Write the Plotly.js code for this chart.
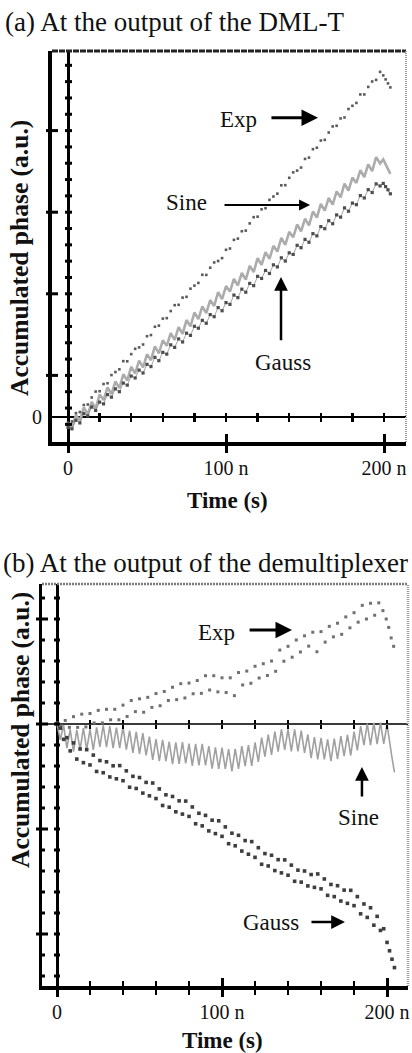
<!DOCTYPE html>
<html>
<head>
<meta charset="utf-8">
<script src="https://cdn.plot.ly/plotly-3.0.1.min.js"></script>
<style>
  html, body { margin: 0; padding: 0; background: #fff; }
  #chart { width: 412px; height: 1053px; }
</style>
</head>
<body>
<div id="chart"></div>
<script>
// ---- (a) At the output of the DML-T : time in ns, phase in a.u. ----
const timeA = [0,2.5,5,7.5,10,12.5,15,17.5,20,22.5,25,27.5,30,32.5,35,37.5,40,42.5,45,47.5,
  50,52.5,55,57.5,60,62.5,65,67.5,70,72.5,75,77.5,80,82.5,85,87.5,90,92.5,95,97.5,
  100,102.5,105,107.5,110,112.5,115,117.5,120,122.5,125,127.5,130,132.5,135,137.5,140,142.5,145,147.5,
  150,152.5,155,157.5,160,162.5,165,167.5,170,172.5,175,177.5,180,182.5,185,187.5,190,192.5,195,197.5,
  199.5,201,202.5,204];

const expA = [-0.35,-0.28,0.24,0.31,0.75,0.78,1.22,1.59,1.61,2.06,
  2.11,2.62,2.81,2.98,3.49,3.48,3.93,4.26,4.35,4.53,
  5.05,5.12,5.64,5.71,6.15,6.18,6.62,6.99,7.01,7.46,
  7.51,8.02,8.21,8.38,8.89,8.88,9.33,9.66,9.75,9.93,
  10.45,10.53,11.07,11.15,11.61,11.65,12.10,12.49,12.52,12.98,
  13.05,13.57,13.78,13.96,14.48,14.49,14.95,15.29,15.40,15.59,
  16.13,16.21,16.74,16.83,17.28,17.32,17.78,18.16,18.2,18.66,
  18.72,19.25,19.45,19.63,20.16,20.16,20.63,20.97,21.07,21.57,
  21.35,21.1,20.85,20.6];

const sineA = [-0.35,-0.69,0.12,-0.24,0.6,0.16,0.95,0.53,1.4,1.06,
  1.85,1.43,2.22,1.81,2.67,2.28,3.14,2.72,3.52,3.10,
  3.92,3.55,4.41,3.98,4.79,4.45,5.24,4.82,5.62,5.2,
  6.06,5.67,6.53,6.12,6.91,6.49,7.31,6.94,7.81,7.37,
  8.18,7.84,8.63,8.22,9.01,8.59,9.45,9.06,9.93,9.51,
  10.3,9.88,10.7,10.34,11.2,10.76,11.57,11.23,12.03,11.61,
  12.4,11.98,12.84,12.46,13.32,12.9,13.69,13.27,14.1,13.73,
  14.59,14.15,14.96,14.63,15.42,15.0,15.79,15.37,16.24,15.85,
  16.1,15.8,15.5,15.2];

const gaussA = [-0.65,-0.74,-0.21,-0.37,0.21,0.07,0.62,0.41,0.93,0.82,
  1.4,1.24,1.76,1.58,2.12,1.99,2.56,2.44,2.93,2.75,
  3.29,3.15,3.73,3.52,4.04,3.93,4.51,4.35,4.88,4.69,
  5.24,5.1,5.67,5.55,6.04,5.86,6.4,6.27,6.84,6.64,
  7.15,7.04,7.62,7.46,7.99,7.8,8.35,8.21,8.79,8.66,
  9.16,8.97,9.51,9.38,9.95,9.75,10.26,10.16,10.73,10.58,
  11.1,10.92,11.46,11.32,11.9,11.77,12.27,12.08,12.63,12.49,
  13.07,12.86,13.37,13.27,13.84,13.69,14.21,14.03,14.57,14.44,
  14.6,14.4,14.2,13.95];

// ---- (b) At the output of the demultiplexer ----
const expB = [0.05,-0.09,0.17,-0.16,0.35,-0.16,0.47,-0.14,0.5,0.05,
  0.65,0.05,0.7,0.2,0.7,0.2,0.9,0.36,1.12,0.59,
  1.2,0.56,1.27,0.79,1.45,0.87,1.55,1.12,1.75,1.16,
  1.92,1.24,1.95,1.44,2.07,1.46,2.3,1.62,2.3,1.53,
  2.2,1.5,2.2,1.35,2.45,1.86,2.52,1.94,2.75,2.19,
  2.87,2.31,3.0,2.51,3.52,2.99,3.7,3.18,4.0,3.43,
  4.2,3.71,4.37,3.44,4.4,3.9,4.65,4.15,4.8,4.27,
  5.1,4.58,5.3,4.85,5.65,5.0,5.75,5.18,5.77,5.4,
  5.0,4.6,4.1,3.7];

const timeB = [0,2,4,6,8,10,12,14,16,18,20,22,24,26,28,30,32,34,36,38,
  40,42,44,46,48,50,52,54,56,58,60,62,64,66,68,70,72,74,76,78,
  80,82,84,86,88,90,92,94,96,98,100,102,104,106,108,110,112,114,116,118,
  120,122,124,126,128,130,132,134,136,138,140,142,144,146,148,150,152,154,156,158,
  160,162,164,166,168,170,172,174,176,178,180,182,184,186,188,190,192,194,196,198,
  200,201.5,203,204.5];

const sineB = [0,-0.75,-0.05,-1.15,-0.25,-1.32,-0.28,-1.22,-0.2,-1.22,
  -0.25,-1.23,-0.16,-1.09,-0.07,-1.1,-0.1,-1.15,-0.17,-1.15,
  -0.13,-1.22,-0.32,-1.37,-0.37,-1.42,-0.43,-1.49,-0.6,-1.71,
  -0.72,-1.77,-0.75,-1.77,-0.84,-1.91,-0.88,-1.9,-0.86,-1.87,
  -0.93,-1.99,-0.95,-1.97,-0.94,-1.97,-1.05,-2.13,-1.11,-2.14,
  -1.12,-2.14,-1.2,-2.25,-1.18,-2.14,-1.05,-2.0,-1.0,-1.99,
  -0.88,-1.8,-0.65,-1.55,-0.5,-1.47,-0.36,-1.32,-0.25,-1.23,
  -0.26,-1.3,-0.26,-1.3,-0.31,-1.38,-0.5,-1.62,-0.63,-1.68,
  -0.66,-1.68,-0.73,-1.77,-0.7,-1.67,-0.58,-1.53,-0.52,-1.5,
  -0.36,-1.26,-0.1,-1.0,0.02,-1.0,0.05,-0.96,0.07,-0.95,
  -0.02,-0.9,-1.6,-2.3];

const gaussB = [0,-0.2,-0.73,-0.65,-1.28,-0.9,-1.67,-1.19,-1.84,-1.22,
  -1.95,-1.48,-2.26,-1.74,-2.32,-1.8,-2.52,-1.99,-2.61,-1.98,
  -2.7,-2.23,-3.01,-2.49,-3.07,-2.55,-3.29,-2.78,-3.42,-2.81,
  -3.55,-3.09,-3.88,-3.37,-3.96,-3.45,-4.18,-3.66,-4.29,-3.67,
  -4.4,-3.95,-4.75,-4.25,-4.85,-4.35,-5.09,-4.58,-5.22,-4.61,
  -5.35,-4.9,-5.7,-5.2,-5.8,-5.3,-6.05,-5.55,-6.2,-5.6,
  -6.35,-5.89,-6.68,-6.17,-6.76,-6.25,-6.98,-6.46,-7.09,-6.47,
  -7.2,-6.72,-7.49,-6.96,-7.53,-7.0,-7.71,-7.17,-7.78,-7.14,
  -7.85,-7.38,-8.16,-7.64,-8.22,-7.7,-8.43,-7.91,-8.54,-7.92,
  -8.65,-8.22,-9.04,-8.57,-9.21,-8.75,-9.58,-9.16,-9.83,-9.75,
  -10.4,-10.8,-11.2,-11.6];

// tick positions and labels on the time axes
const timeTicks = [0, 100, 200];
const timeTickText = ['0', '100 n', '200 n'];
const timeMinor = [20, 40, 60, 80, 120, 140, 160, 180];
const zeroLineTicks = [20, 40, 60, 80, 100, 120, 140, 160, 180, 200];

const W = 412, H = 1053;
const SERIF = 'Liberation Serif, Times New Roman, serif';
const INK = '#111';

// plot areas in page pixels and axis ranges (ns / a.u.)
const boxA = { l: 52, r: 406, t: 51, b: 442 };
const boxB = { l: 42, r: 408, t: 584, b: 986 };
const rangeXA = [-10.13, 213.9], rangeYA = [-1.5625, 22.875];
const rangeXB = [-9.09, 212.7], rangeYB = [-12.476, 6.667];

function frac(r, v) { return (v - r[0]) / (r[1] - r[0]); }
// paper height of y = 0 in each panel (for the tick rows on the zero lines)
const zeroPaperA = 1 - boxA.b / H + frac(rangeYA, 0) * (boxA.b - boxA.t) / H;
const zeroPaperB = 1 - boxB.b / H + frac(rangeYB, 0) * (boxB.b - boxB.t) / H;

const traces = [
  { x: timeA, y: sineA, xaxis: 'x', yaxis: 'y', mode: 'lines', name: 'Sine',
    line: { color: '#acacac', width: 2.6 } },
  { x: timeA, y: gaussA, xaxis: 'x', yaxis: 'y', mode: 'lines+markers', name: 'Gauss',
    line: { color: '#8c8c8c', width: 0.8 },
    marker: { color: '#4e4e4e', size: 3.2, symbol: 'square' } },
  { x: timeA, y: expA, xaxis: 'x', yaxis: 'y', mode: 'markers', name: 'Exp',
    marker: { color: '#5a5a5a', size: 2.6, symbol: 'square' } },

  { x: timeA, y: expB, xaxis: 'x2', yaxis: 'y2', mode: 'markers', name: 'Exp',
    marker: { color: '#707070', size: 3, symbol: 'square' } },
  { x: timeB, y: sineB, xaxis: 'x2', yaxis: 'y2', mode: 'lines', name: 'Sine',
    line: { color: '#a0a0a0', width: 1.6 } },
  { x: timeB, y: gaussB, xaxis: 'x2', yaxis: 'y2', mode: 'markers', name: 'Gauss',
    marker: { color: '#3e3e3e', size: 3.6, symbol: 'square' } }
];
// empty traces so that the extra tick-only axes get drawn
['x3', 'x5', 'x6'].forEach(a => traces.push({ x: [], y: [], xaxis: a, yaxis: 'y', mode: 'markers', hoverinfo: 'skip' }));
['x4', 'x7', 'x8'].forEach(a => traces.push({ x: [], y: [], xaxis: a, yaxis: 'y2', mode: 'markers', hoverinfo: 'skip' }));

// frames and the ticks on the vertical lines, placed as fractions of each axis domain
const shapes = [];
function tickH(ax, box, ry, xFrac, v, left, right, w) {
  const y = frac(ry, v), wd = box.r - box.l;
  shapes.push({ type: 'line', xref: ax[0] + ' domain', yref: ax[1] + ' domain',
    y0: y, y1: y, x0: xFrac - left / wd, x1: xFrac + right / wd,
    line: { color: '#000', width: w } });
}
function frameLine(ax, x0, y0, x1, y1, color, width, dash) {
  shapes.push({ type: 'line', xref: ax[0] + ' domain', yref: ax[1] + ' domain',
    x0: x0, y0: y0, x1: x1, y1: y1, line: { color: color, width: width, dash: dash } });
}

// panel (a)
const axA = ['x', 'y'];
const zeroXA = frac(rangeXA, 0);
[2.6, 7.7, 12.8, 17.9].forEach(v => tickH(axA, boxA, rangeYA, 0, v, 6, 6, 3));
for (let k = -3; k <= 19; k++) tickH(axA, boxA, rangeYA, zeroXA, 2.6 + 1.02 * k, 3, 4, 3);
frameLine(axA, 0, 1, 1, 1, '#222', 3, '6px,1px');
frameLine(axA, 1, 0, 1, 1, '#9a9a9a', 2, '1px,1px');

// panel (b)
const axB = ['x2', 'y2'];
const zeroXB = frac(rangeXB, 0);
for (let k = -12; k <= 6; k++) {
  const major = (k % 5 === 0);
  tickH(axB, boxB, rangeYB, 0, k, major ? 6 : 3, major ? 6 : 3, 3);
  tickH(axB, boxB, rangeYB, zeroXB, k, 3, 3, 3);
}
frameLine(axB, 0, 1, 1, 1, '#7a7a7a', 2.5, '2px,1px');
frameLine(axB, 1, 0, 1, 1, '#9a9a9a', 2.5, '1px,1px');

const labelFont = { family: SERIF, size: 23, color: INK };
function label(xa, ya, text, x, y) {
  return { xref: xa, yref: ya, x: x, y: y, text: text, showarrow: false,
    font: labelFont, xanchor: 'center', yanchor: 'middle' };
}
function arrow(xa, ya, x0, y0, x1, y1, w) {
  return { xref: xa, yref: ya, axref: xa, ayref: ya, x: x1, y: y1, ax: x0, ay: y0,
    text: '', showarrow: true, arrowhead: 2, arrowsize: 1.1, arrowwidth: w,
    arrowcolor: '#000', standoff: 0, startstandoff: 0 };
}
function paperText(text, px, py, size, bold, angle, anchor) {
  return { xref: 'paper', yref: 'paper', x: px / W, y: 1 - py / H,
    text: bold ? '<b>' + text + '</b>' : text, showarrow: false,
    textangle: angle || 0, xanchor: anchor || 'center', yanchor: 'middle',
    font: { family: SERIF, size: size, color: INK } };
}

const annotations = [
  paperText('(a) At the output of the DML-T', 3, 22, 27, false, 0, 'left'),
  paperText('(b) At the output of the demultiplexer', 1, 563, 27, false, 0, 'left'),
  paperText('Accumulated phase (a.u.)', 20, 258, 25.5, true, -90),
  paperText('Accumulated phase (a.u.)', 20, 730, 25.5, true, -90),
  paperText('Time (s)', 227, 500, 23, true),
  paperText('Time (s)', 222, 1040, 23, true),

  label('x', 'y', 'Exp', 107.6, 18.6),
  arrow('x', 'y', 127.8, 18.7, 158.2, 18.7, 3),
  label('x', 'y', 'Sine', 74.7, 13.4),
  arrow('x', 'y', 98.1, 13.25, 153.2, 13.25, 2),
  label('x', 'y', 'Gauss', 136, 3.4),
  arrow('x', 'y', 134.8, 4.7, 134.8, 8.75, 2.5),

  label('x2', 'y2', 'Exp', 96.4, 4.38),
  arrow('x2', 'y2', 115.8, 4.48, 142.4, 4.48, 3),
  label('x2', 'y2', 'Sine', 183, -4.43),
  arrow('x2', 'y2', 184.8, -3.52, 184.8, -2.05, 2.5),
  label('x2', 'y2', 'Gauss', 129.7, -9.43),
  arrow('x2', 'y2', 153.3, -9.43, 174.5, -9.43, 2.5)
];

const tickFont = { family: SERIF, size: 20, color: INK };
function timeAxis(box, range, withMinor) {
  const ax = { domain: [box.l / W, box.r / W], range: range, showgrid: false,
    zeroline: true, zerolinecolor: '#000', zerolinewidth: 3,
    showline: true, linecolor: '#000', linewidth: 3.5,
    tickmode: 'array', tickvals: timeTicks, ticktext: timeTickText,
    ticks: 'outside', ticklen: 7, tickwidth: 3, tickcolor: '#000',
    ticklabelstandoff: -2, tickfont: tickFont, fixedrange: true };
  if (withMinor) ax.minor = { tickmode: 'array', tickvals: timeMinor, ticks: 'outside',
    ticklen: 5, tickwidth: 2.5, tickcolor: '#000', showgrid: false };
  return ax;
}
// tick-only axes laid over a time axis (upper half of crossing ticks, zero-line ticks)
function tickAxis(over, anchor, position, vals, dir, len, w, minorVals) {
  const ax = { overlaying: over, anchor: anchor, side: 'bottom', showgrid: false, zeroline: false,
    showline: false, showticklabels: false, tickmode: 'array', tickvals: vals,
    ticks: dir, ticklen: len, tickwidth: w, tickcolor: '#000', fixedrange: true };
  if (anchor === 'free') ax.position = position;
  if (minorVals) ax.minor = { tickmode: 'array', tickvals: minorVals, ticks: dir,
    ticklen: 5, tickwidth: 2.5, tickcolor: '#000', showgrid: false };
  return ax;
}

const layout = {
  width: W, height: H,
  margin: { l: 0, r: 0, t: 0, b: 0 },
  paper_bgcolor: '#fff', plot_bgcolor: '#fff',
  showlegend: false,
  xaxis: timeAxis(boxA, rangeXA, false),
  yaxis: { domain: [1 - boxA.b / H, 1 - boxA.t / H], range: rangeYA, showgrid: false,
    zeroline: true, zerolinecolor: '#000', zerolinewidth: 2.5,
    showline: true, linecolor: '#000', linewidth: 4,
    tickmode: 'array', tickvals: [0], ticktext: ['0'], ticks: '',
    ticklabelstandoff: 2, tickfont: tickFont, fixedrange: true },
  xaxis2: Object.assign(timeAxis(boxB, rangeXB, true), { anchor: 'y2' }),
  yaxis2: { domain: [1 - boxB.b / H, 1 - boxB.t / H], range: rangeYB, anchor: 'x2',
    showgrid: false, zeroline: true, zerolinecolor: '#3a3a3a', zerolinewidth: 2.5,
    showline: true, linecolor: '#000', linewidth: 3.5,
    showticklabels: false, ticks: '', fixedrange: true },
  xaxis3: Object.assign(tickAxis('x', 'y', 0, timeTicks, 'inside', 8, 3), { range: rangeXA }),
  xaxis5: Object.assign(tickAxis('x', 'free', zeroPaperA, zeroLineTicks, 'outside', 4, 2.5), { range: rangeXA }),
  xaxis6: Object.assign(tickAxis('x', 'free', zeroPaperA, zeroLineTicks, 'inside', 4, 2.5), { range: rangeXA }),
  xaxis4: Object.assign(tickAxis('x2', 'y2', 0, timeTicks, 'inside', 8, 3, timeMinor), { range: rangeXB }),
  xaxis7: Object.assign(tickAxis('x2', 'free', zeroPaperB, zeroLineTicks, 'outside', 4, 2.5), { range: rangeXB }),
  xaxis8: Object.assign(tickAxis('x2', 'free', zeroPaperB, zeroLineTicks, 'inside', 4, 2.5), { range: rangeXB }),
  shapes: shapes,
  annotations: annotations
};

Plotly.newPlot('chart', traces, layout, { staticPlot: true, displayModeBar: false });
</script>
</body>
</html>
